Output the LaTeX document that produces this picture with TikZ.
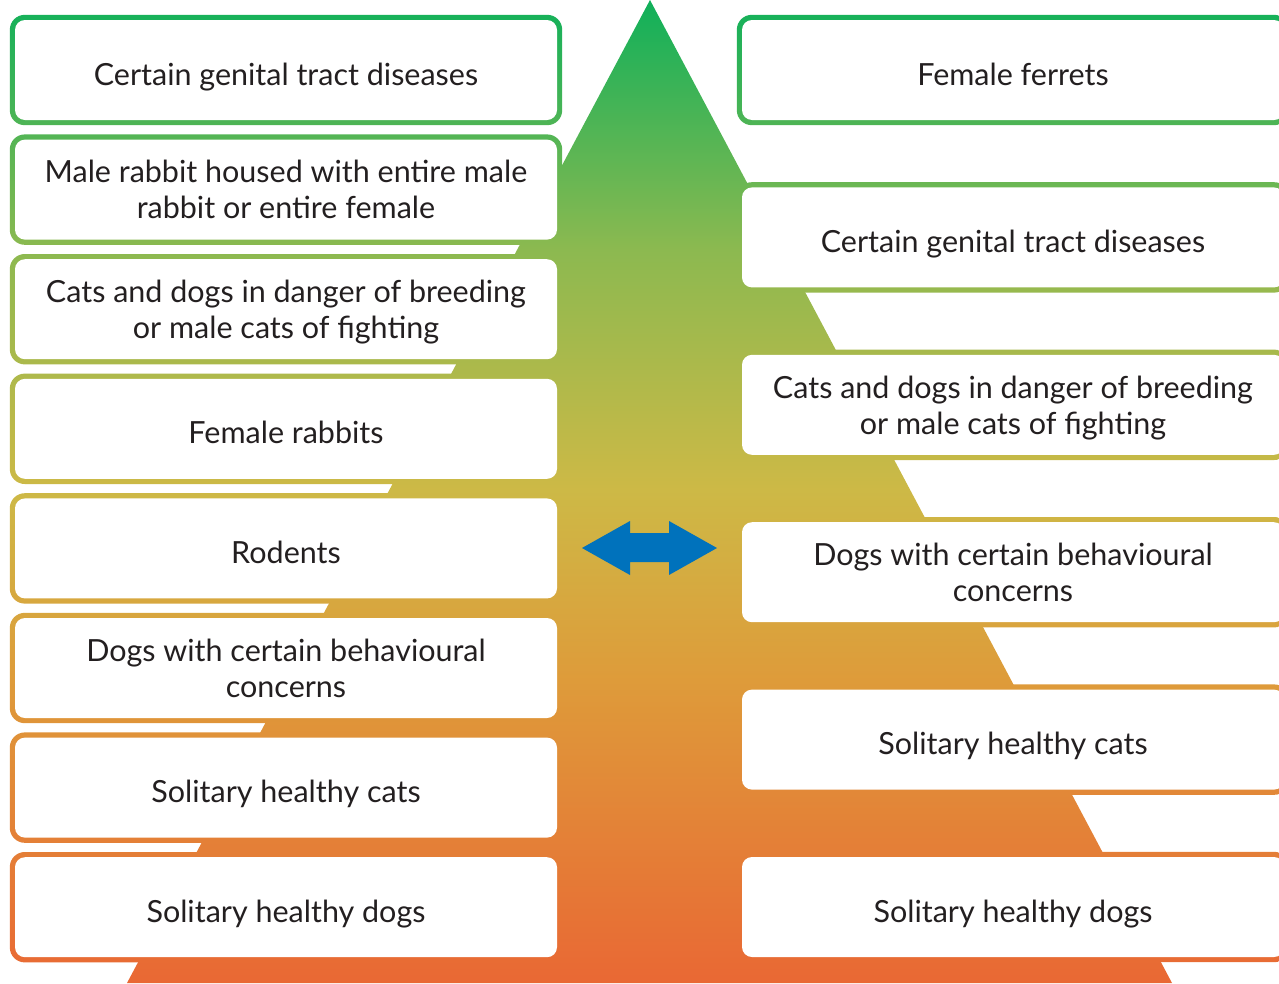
\documentclass[tikz,border=0pt]{standalone}
\usepackage{fontspec}
\setmainfont{Lato}
\usetikzlibrary{calc,backgrounds}
\definecolor{pyrGreen}{RGB}{16,176,90}
\definecolor{pyrLime}{RGB}{140,185,80}
\definecolor{pyrYellow}{RGB}{205,185,70}
\definecolor{pyrAmber}{RGB}{222,155,58}
\definecolor{pyrOrange}{RGB}{233,104,52}
\definecolor{arrowblue}{RGB}{0,114,188}
\definecolor{txtgray}{RGB}{35,31,32}
\pgfdeclareverticalshading{pyramid}{100bp}{color(0bp)=(pyrOrange); color(25bp)=(pyrOrange);
  color(40.4bp)=(pyrAmber); color(50.1bp)=(pyrYellow); color(62.3bp)=(pyrLime);
  color(75bp)=(pyrGreen); color(100bp)=(pyrGreen)}

\begin{document}
\begin{tikzpicture}[
  x=1pt, y=-1pt,
  tier/.style={rounded corners=10pt, fill=white, minimum width=542pt, minimum height=100pt,
    align=center, inner sep=0pt, text=txtgray, text depth=0pt, font=\fontsize{30.5}{36}\selectfont},
  oneline/.style={tier, text height=30pt},
  ring/.style={rounded corners=15pt},
  every node/.style={font=\fontsize{30.5}{36}\selectfont}
]
  \useasboundingbox (0,0) rectangle (1279,983);

  % left column
  \node[oneline] (l1) at (286,70.0) {Certain genital tract diseases};
  \node[tier] (l2) at (286,189.6) {Male rabbit housed with entire male\\rabbit or entire female};
  \node[tier] (l3) at (286,309.2) {Cats and dogs in danger of breeding\\or male cats of fighting};
  \node[oneline] (l4) at (286,428.8) {Female rabbits};
  \node[oneline] (l5) at (286,548.4) {Rodents};
  \node[tier] (l6) at (286,668.0) {Dogs with certain behavioural\\concerns};
  \node[oneline] (l7) at (286,787.6) {Solitary healthy cats};
  \node[oneline] (l8) at (286,907.2) {Solitary healthy dogs};

  % right column
  \node[oneline] (r1) at (1013,70.0) {Female ferrets};
  \node[oneline] (r2) at (1013,237.4) {Certain genital tract diseases};
  \node[tier] (r3) at (1013,404.8) {Cats and dogs in danger of breeding\\or male cats of fighting};
  \node[tier] (r4) at (1013,572.2) {Dogs with certain behavioural\\concerns};
  \node[oneline] (r5) at (1013,739.6) {Solitary healthy cats};
  \node[oneline] (r6) at (1013,907.0) {Solitary healthy dogs};

  \begin{scope}[on background layer]
    \shade[shading=pyramid] (650,0) -- (1172,983) -- (127,983) -- cycle;
    \foreach \n in {l1,l2,l3,l4,l5,l6,l7,l8,r1,r2,r3,r4,r5,r6} {
      \begin{scope}
        \clip[ring] ($(\n.north west)+(-5pt,5pt)$) rectangle ($(\n.south east)+(5pt,-5pt)$);
        \shade[shading=pyramid] (0,0) rectangle (1279,983);
      \end{scope}
    }
  \end{scope}

  % double arrow
  \fill[arrowblue] (582,548) -- (630,521) -- (630,533) -- (669,533) -- (669,521) -- (717,548)
    -- (669,575) -- (669,562) -- (630,562) -- (630,575) -- cycle;
\end{tikzpicture}
\end{document}
